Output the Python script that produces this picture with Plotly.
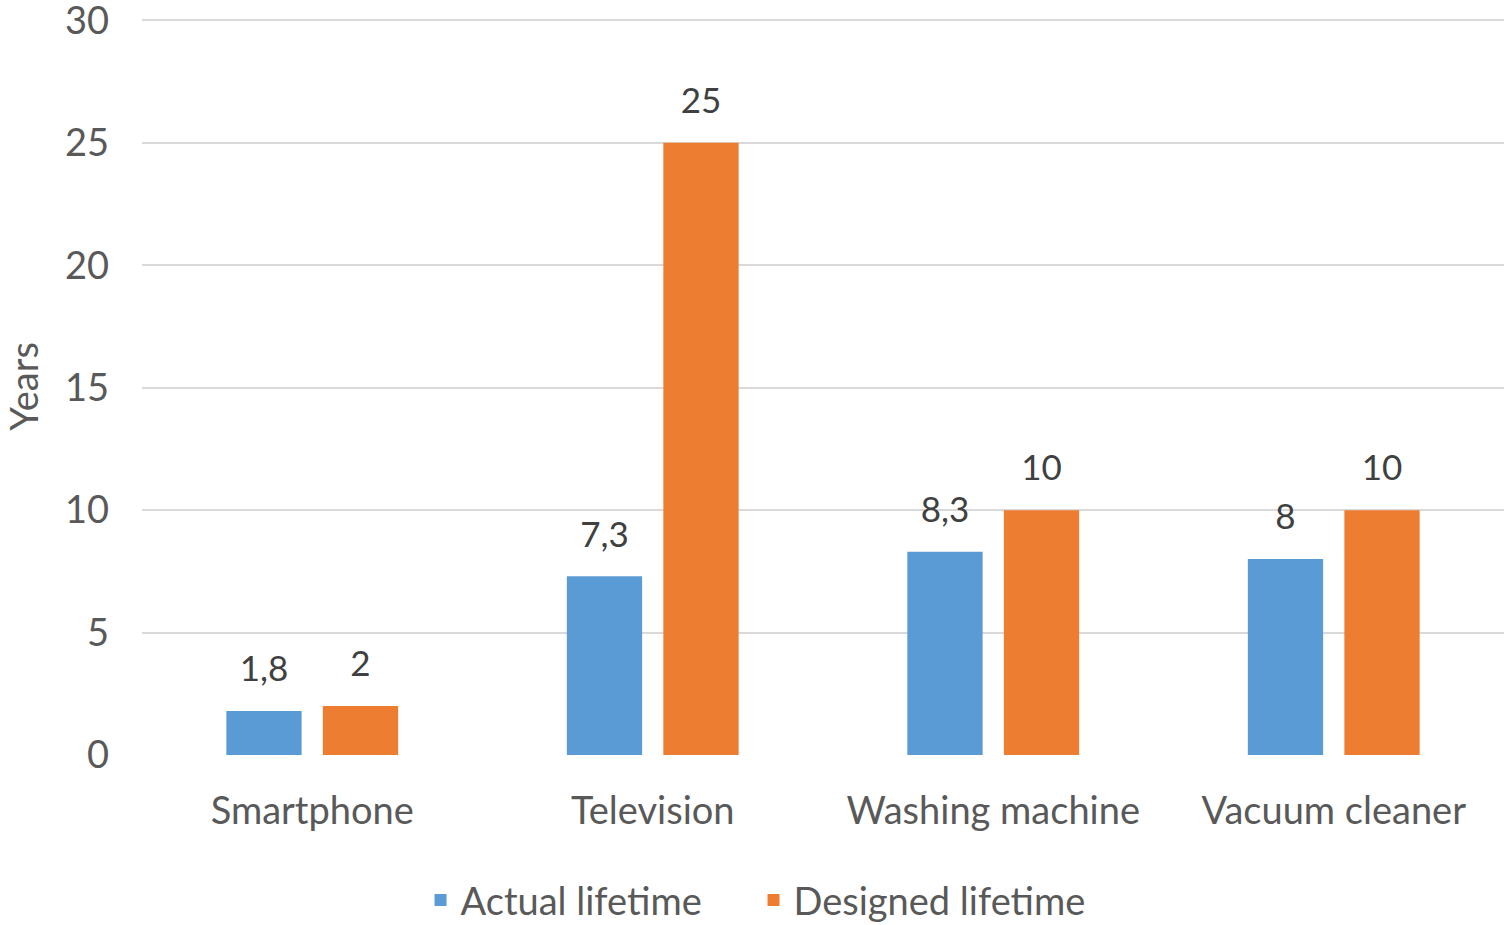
import plotly.graph_objects as go

categories = ["Smartphone", "Television", "Washing machine", "Vacuum cleaner"]
actual = [1.8, 7.3, 8.3, 8]
designed = [2, 25, 10, 10]
series_names = ["Actual lifetime", "Designed lifetime"]
y_ticks = [0, 5, 10, 15, 20, 25, 30]

BLUE = "#5B9BD5"
ORANGE = "#ED7D31"
FONT = "Lato"


def fmt(v):
    return str(v).replace(".", ",")


fig = go.Figure()
for name, vals, col, grp in [(series_names[0], actual, BLUE, "a"),
                              (series_names[1], designed, ORANGE, "d")]:
    fig.add_trace(go.Bar(x=categories, y=vals, name=name, marker_color=col,
                         marker_line_width=0, offsetgroup=grp))
for vals, grp in [(actual, "a"), (designed, "d")]:
    fig.add_trace(go.Scatter(x=categories, y=vals, mode="markers+text",
                             text=[fmt(v) for v in vals], textposition="top center",
                             textfont=dict(family=FONT, size=35, color="#404040"),
                             marker=dict(size=32, opacity=0), offsetgroup=grp,
                             showlegend=False, hoverinfo="skip", cliponaxis=False))

fig.update_layout(
    width=1504, height=925,
    margin=dict(l=142, r=0, t=18, b=170, autoexpand=False),
    paper_bgcolor="white", plot_bgcolor="white",
    barmode="group", bargap=0.433, bargroupgap=0.22,
    scattermode="group", scattergap=0.433,
    font=dict(family=FONT, size=38, color="#595959"),
    showlegend=True,
    legend=dict(orientation="h", x=0.449, xanchor="center", y=-0.197, yanchor="middle",
                font=dict(family=FONT, size=38, color="#595959"),
                entrywidth=288, traceorder="normal"),
)
fig.update_yaxes(range=[0, 30.1], tickvals=y_ticks, showgrid=True, gridcolor="#D9D9D9",
                 gridwidth=2, zeroline=False, showline=False, ticks="", automargin=False,
                 ticklabeloverflow="allow",
                 ticklabelstandoff=32, tickfont=dict(family=FONT, size=38, color="#595959"),
                 title=dict(text="Years", font=dict(family=FONT, size=38, color="#595959"),
                            standoff=20))
fig.update_xaxes(showgrid=False, showline=False, zeroline=False, ticks="", automargin=False,
                 ticklabelstandoff=30, tickfont=dict(family=FONT, size=38, color="#595959"))

fig.write_html("out.html")
